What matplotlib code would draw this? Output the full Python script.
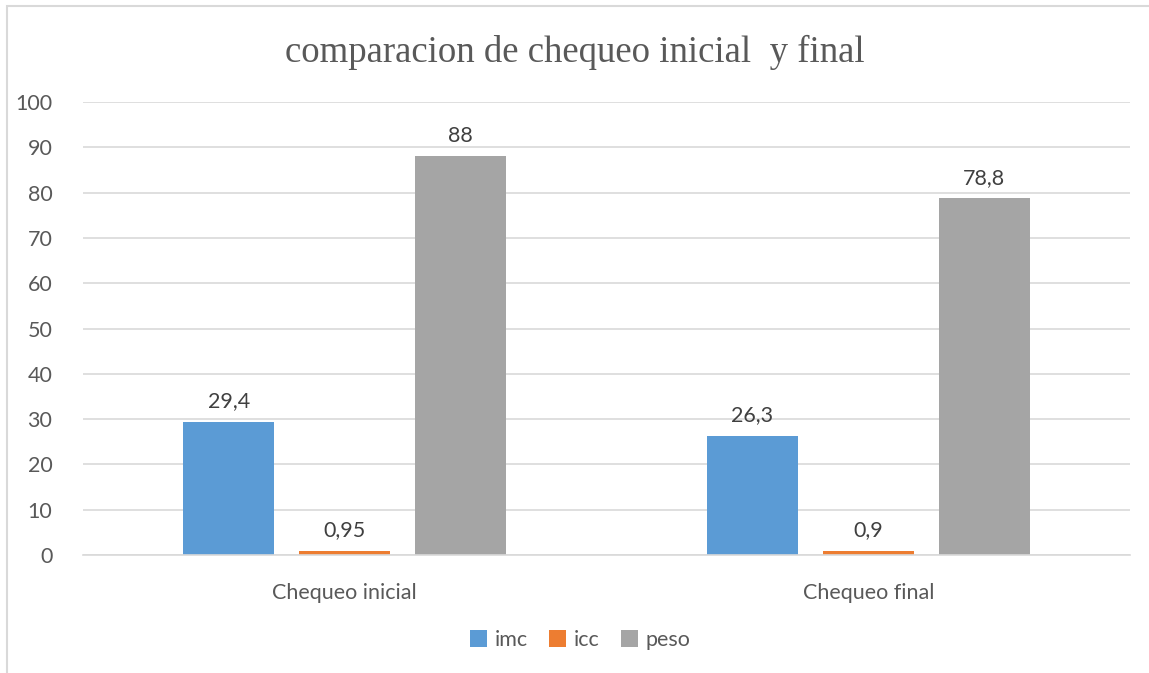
import numpy as np
import matplotlib.pyplot as plt
from matplotlib.patches import Rectangle

categories = ['Chequeo inicial', 'Chequeo final']
series = ['imc', 'icc', 'peso']
imc = [29.4, 26.3]
icc = [0.95, 0.9]
peso = [88, 78.8]
labels = [['29,4', '26,3'], ['0,95', '0,9'], ['88', '78,8']]
colors = ['#5b9bd5', '#ed7d31', '#a5a5a5']

plt.rcParams['font.family'] = ['Lato', 'DejaVu Sans']

fig = plt.figure(figsize=(11.49, 6.73), dpi=100)
ax = fig.add_axes([0.0722, 0.1753, 0.9113, 0.6731])

x = np.arange(len(categories))
width = 0.174
step = 0.2216
for i, (vals, name) in enumerate(zip([imc, icc, peso], series)):
    pos = x + (i - 1) * step
    ax.bar(pos, vals, width, color=colors[i], label=name, zorder=3)
    for p, v, t in zip(pos, vals, labels[i]):
        ax.text(p, v + 2.3, t, ha='center', va='bottom', fontsize=15.5, color='#404040')

ax.set_xlim(-0.5, 1.5)
ax.set_ylim(0, 100)
ax.set_yticks(np.arange(0, 101, 10))
ax.set_xticks(x)
ax.set_xticklabels(categories)
ax.tick_params(axis='both', length=0, colors='#595959', labelsize=15.5)
ax.tick_params(axis='x', pad=20)
ax.tick_params(axis='y', pad=22)
ax.grid(axis='y', color='#d9d9d9', linewidth=1.2, zorder=0)
for s in ['top', 'right', 'left']:
    ax.spines[s].set_visible(False)
ax.spines['bottom'].set_color('#d9d9d9')
ax.spines['bottom'].set_linewidth(1.2)
ax.spines['bottom'].set_zorder(4)

fig.text(0.5, 0.922, 'comparacion de chequeo inicial  y final', ha='center', va='center',
         fontsize=26.5, color='#595959', family='Liberation Serif')

leg = fig.legend(loc='center', bbox_to_anchor=(0.505, 0.049), ncol=3, frameon=False,
                 fontsize=15.5, handlelength=0.8, handleheight=0.8, handletextpad=0.35,
                 columnspacing=1.0)
for t in leg.get_texts():
    t.set_color('#595959')

fig.patches.append(Rectangle((7 / 1149, -0.05), 1.1, 1 - 6 / 673 + 0.05, transform=fig.transFigure,
                             fill=False, edgecolor='#d9d9d9', linewidth=1.5))

fig.savefig('out.png', dpi=100)
